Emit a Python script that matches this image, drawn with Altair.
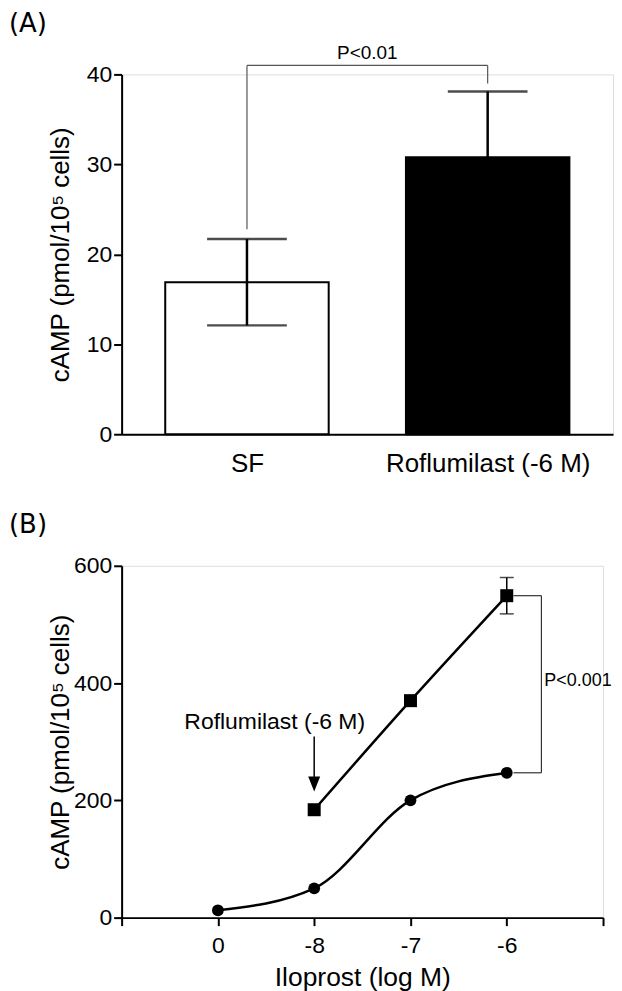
import altair as alt
import pandas as pd

FONT = "Liberation Sans"
LETTER_FONT = "DejaVu Sans"

# ---------------- data ----------------
# Panel A
categories = ["SF", "Roflumilast (-6 M)"]
camp_mean = [16.9, 30.8]
camp_sd = [4.8, 7.3]
bar_fill = ["white", "black"]
p_text_a = "P<0.01"
bracket_a_low = [22.8, 39.0]   # bottom ends of the bracket legs
bracket_a_top = 41.0

# Panel B
iloprost_labels = ["0", "-8", "-7", "-6"]
control_camp = [12.5, 50, 200, 247]
roflu_labels = ["-8", "-7", "-6"]
roflu_camp = [184, 370, 549]
roflu_sd = [0, 0, 31]
p_text_b = "P<0.001"
arrow_text = "Roflumilast (-6 M)"

# ---------------- panel A ----------------
WA, HA = 493, 361
dfA = pd.DataFrame({
    "cat": categories,
    "pos": [i + 0.5 for i in range(len(categories))],
    "mean": camp_mean,
    "lo": [m - s for m, s in zip(camp_mean, camp_sd)],
    "hi": [m + s for m, s in zip(camp_mean, camp_sd)],
    "fill": bar_fill,
})
labA = "[" + ",".join("'" + c + "'" for c in categories) + "][floor(datum.value)]"

xA = alt.X("pos:Q", scale=alt.Scale(domain=[0, len(categories)], nice=False),
           axis=alt.Axis(values=[i + 0.5 for i in range(len(categories))], labelExpr=labA,
                         ticks=False, grid=False, title=None, labelFontSize=26, labelLimit=0,
                         labelPadding=16, labelFont=FONT, labelColor="black",
                         domainColor="black", domainWidth=2, labelOverlap=False, labelFlush=False))
yA = alt.Y("mean:Q", scale=alt.Scale(domain=[0, 40], nice=False),
           axis=alt.Axis(values=[0, 10, 20, 30, 40], tickSize=8, tickWidth=2, tickColor="black",
                         domainColor="black", domainWidth=2, grid=False, labelFontSize=23,
                         labelFont=FONT, labelColor="black", labelPadding=2,
                         title="cAMP (pmol/10⁵ cells)", titleFont=FONT, titleFontSize=26,
                         titleFontWeight="normal", titleColor="black", titleAngle=270,
                         titleBaseline="middle", titleAlign="center", titleX=-61, titleY=HA / 2))

bars = alt.Chart(dfA).mark_bar(size=164, stroke="black", strokeWidth=2).encode(
    x=xA, y=yA, fill=alt.Fill("fill:N", scale=None))
err_a = alt.Chart(dfA).mark_rule(color="black", strokeWidth=2.5).encode(
    x="pos:Q", y="lo:Q", y2="hi:Q")
cap_hi_a = alt.Chart(dfA).mark_tick(orient="horizontal", size=80, thickness=2.5, color="black").encode(
    x="pos:Q", y="hi:Q")
cap_lo_a = alt.Chart(dfA).mark_tick(orient="horizontal", size=80, thickness=2.5, color="black").encode(
    x="pos:Q", y="lo:Q")

p0, p1 = dfA["pos"].tolist()
brA = pd.DataFrame({
    "x": [p0, p0, p1], "x2": [p0, p1, p1],
    "y": [bracket_a_low[0], bracket_a_top, bracket_a_low[1]],
    "y2": [bracket_a_top, bracket_a_top, bracket_a_top],
})
bracket_a = alt.Chart(brA).mark_rule(color="#555555", strokeWidth=1.2).encode(
    x="x:Q", x2="x2:Q", y="y:Q", y2="y2:Q")
ptxtA = alt.Chart(pd.DataFrame({"x": [(p0 + p1) / 2], "y": [bracket_a_top], "t": [p_text_a]})).mark_text(
    font=FONT, fontSize=19, baseline="alphabetic", dy=-6, color="black").encode(
    x="x:Q", y="y:Q", text="t:N")
letterA = alt.Chart(pd.DataFrame({"t": ["(A)"]})).mark_text(
    font=LETTER_FONT, fontSize=26, align="left", baseline="middle", color="black").encode(
    x=alt.value(-113), y=alt.value(-51), text="t:N")

panelA = alt.layer(bars, err_a, cap_hi_a, cap_lo_a, bracket_a, ptxtA, letterA).properties(
    width=WA, height=HA)

# ---------------- panel B ----------------
WB, HB = 483, 353
pos_of = {lab: i + 1 for i, lab in enumerate(iloprost_labels)}
dfB = pd.DataFrame({
    "xi": [pos_of[l] for l in iloprost_labels] + [pos_of[l] for l in roflu_labels],
    "camp": control_camp + roflu_camp,
    "series": ["control"] * len(control_camp) + ["roflumilast"] * len(roflu_camp),
})
dfErrB = pd.DataFrame({
    "xi": [pos_of[l] for l in roflu_labels],
    "lo": [m - s for m, s in zip(roflu_camp, roflu_sd)],
    "hi": [m + s for m, s in zip(roflu_camp, roflu_sd)],
    "sd": roflu_sd,
})
dfErrB = dfErrB[dfErrB["sd"] > 0]

nB = len(iloprost_labels) + 2
labB = "[''," + ",".join("'" + l + "'" for l in iloprost_labels) + ",''][round(datum.value)]"
xB = alt.X("xi:Q", scale=alt.Scale(domain=[0, nB - 1], nice=False),
           axis=alt.Axis(values=list(range(nB)), labelExpr=labB, tickSize=8, tickWidth=2,
                         tickColor="black", domainColor="black", domainWidth=2, grid=False,
                         labelFontSize=23, labelFont=FONT, labelColor="black", labelPadding=9,
                         labelOverlap=False, labelFlush=False,
                         title="Iloprost (log M)", titleFont=FONT, titleFontSize=26.5,
                         titleFontWeight="normal", titleColor="black", titlePadding=7))
yB = alt.Y("camp:Q", scale=alt.Scale(domain=[0, 600], nice=False),
           axis=alt.Axis(values=[0, 200, 400, 600], tickSize=8, tickWidth=2, tickColor="black",
                         domainColor="black", domainWidth=2, grid=False, labelFontSize=23,
                         labelFont=FONT, labelColor="black", labelPadding=2,
                         title="cAMP (pmol/10⁵ cells)", titleFont=FONT, titleFontSize=26,
                         titleFontWeight="normal", titleColor="black", titleAngle=270,
                         titleBaseline="middle", titleAlign="center", titleX=-61, titleY=HB / 2))

lines = alt.Chart(dfB).mark_line(interpolate="monotone", strokeWidth=2.5, color="black").encode(
    x=xB, y=yB, detail="series:N")
points = alt.Chart(dfB).mark_point(filled=True, opacity=1, color="black").encode(
    x="xi:Q", y="camp:Q",
    shape=alt.Shape("series:N", scale=alt.Scale(domain=["control", "roflumilast"],
                                                 range=["circle", "square"]), legend=None),
    size=alt.Size("series:N", scale=alt.Scale(domain=["control", "roflumilast"],
                                               range=[140, 170]), legend=None))
err_b = alt.Chart(dfErrB).mark_rule(color="black", strokeWidth=1.5).encode(
    x="xi:Q", y="lo:Q", y2="hi:Q")
cap_hi_b = alt.Chart(dfErrB).mark_tick(orient="horizontal", size=14, thickness=1.5, color="black").encode(
    x="xi:Q", y="hi:Q")
cap_lo_b = alt.Chart(dfErrB).mark_tick(orient="horizontal", size=14, thickness=1.5, color="black").encode(
    x="xi:Q", y="lo:Q")

last = pos_of[iloprost_labels[-1]]
top_v, bot_v = roflu_camp[-1], control_camp[-1]
bx0, bx1 = last + 0.07, last + 0.36
brB = pd.DataFrame({
    "x": [bx0, bx0, bx1], "x2": [bx1, bx1, bx1],
    "y": [top_v, bot_v, bot_v], "y2": [top_v, bot_v, top_v],
})
bracket_b = alt.Chart(brB).mark_rule(color="#333333", strokeWidth=1.2).encode(
    x="x:Q", x2="x2:Q", y="y:Q", y2="y2:Q")
ptxtB = alt.Chart(pd.DataFrame({"x": [bx1 + 0.03], "y": [(top_v + bot_v) / 2 + 5], "t": [p_text_b]})).mark_text(
    font=FONT, fontSize=18, align="left", baseline="middle", color="black").encode(
    x="x:Q", y="y:Q", text="t:N")

ax = pos_of[roflu_labels[0]]
arrow_line = alt.Chart(pd.DataFrame({"x": [ax], "y": [309], "y2": [236]})).mark_rule(
    color="black", strokeWidth=1.5).encode(x="x:Q", y="y:Q", y2="y2:Q")
arrow_head = alt.Chart(pd.DataFrame({"x": [ax], "y": [228]})).mark_point(
    shape="M-0.8,-1L0.8,-1L0,1Z", size=225, filled=True, opacity=1, color="black").encode(
    x="x:Q", y="y:Q")
arrow_txt = alt.Chart(pd.DataFrame({"x": [ax - 0.41], "y": [333], "t": [arrow_text]})).mark_text(
    font=FONT, fontSize=23, baseline="middle", color="black").encode(
    x="x:Q", y="y:Q", text="t:N")
letterB = alt.Chart(pd.DataFrame({"t": ["(B)"]})).mark_text(
    font=LETTER_FONT, fontSize=26, align="left", baseline="middle", color="black").encode(
    x=alt.value(-113), y=alt.value(-41), text="t:N")

panelB = alt.layer(lines, points, err_b, cap_hi_b, cap_lo_b, bracket_b, ptxtB,
                   arrow_line, arrow_head, arrow_txt, letterB).properties(width=WB, height=HB)

chart = alt.vconcat(panelA, panelB, spacing=34).properties(
    padding={"left": 0, "top": 0, "right": 0, "bottom": 0}
).configure_view(stroke=None).configure(background="white")

chart.save("out.html", embed_options={"renderer": "svg", "actions": False})
